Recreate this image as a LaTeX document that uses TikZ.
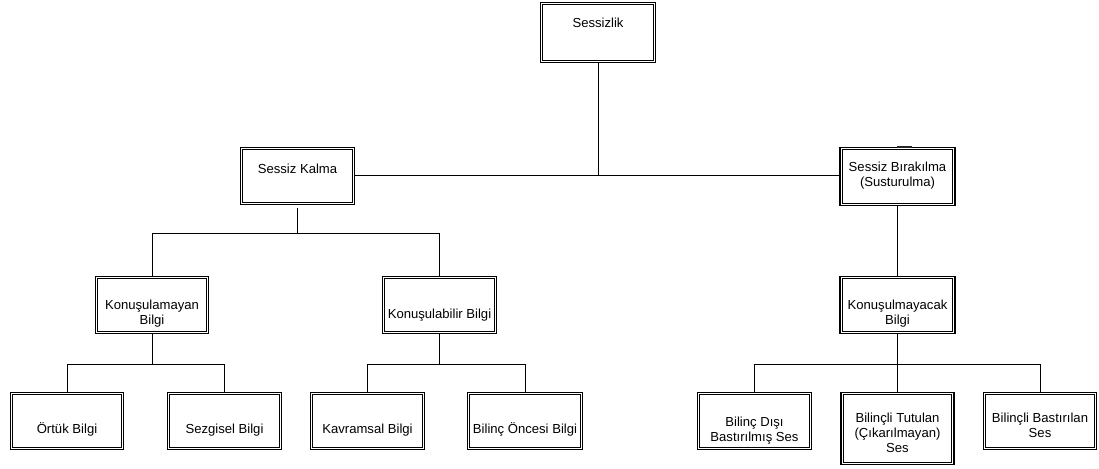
\documentclass[tikz,border=0pt]{standalone}
\usepackage{fontspec}
\setmainfont{Liberation Sans}
\begin{document}
\begin{tikzpicture}[x=1pt,y=-1pt,
  box/.style={draw=black, line width=1.2pt, inner sep=0pt, fill=white},
  innerbox/.style={draw=black, line width=0.7pt},
  lbl/.style={inner sep=0pt, align=center, font=\fontsize{13.1}{15}\selectfont},
  conn/.style={draw=black, line width=0.9pt}]
\useasboundingbox (0,0) rectangle (1099,468);
% boxes
\node[box, minimum width=115pt, minimum height=60pt] (root) at (598,32.5) {};
\node[box, minimum width=114pt, minimum height=57pt] (kalma) at (297.5,176) {};
\node[box, minimum width=115pt, minimum height=58pt] (birak) at (897.5,176.5) {};
\node[box, minimum width=113pt, minimum height=57pt] (kya) at (152,305) {};
\node[box, minimum width=114pt, minimum height=57pt] (kbi) at (439.5,305) {};
\node[box, minimum width=115pt, minimum height=57pt] (kmy) at (897.5,305) {};
\node[box, minimum width=113pt, minimum height=57pt] (ortuk) at (67,421) {};
\node[box, minimum width=114pt, minimum height=57pt] (sezgi) at (224.5,421) {};
\node[box, minimum width=114pt, minimum height=57pt] (kavram) at (367.5,421) {};
\node[box, minimum width=115pt, minimum height=57pt] (oncesi) at (525,421) {};
\node[box, minimum width=114pt, minimum height=57pt] (disi) at (754.5,421) {};
\node[box, minimum width=113pt, minimum height=72pt] (tutulan) at (897.5,428.5) {};
\node[box, minimum width=113pt, minimum height=57pt] (bastir) at (1040,421) {};
\foreach \n in {root,kalma,birak,kya,kbi,kmy,ortuk,sezgi,kavram,oncesi,disi,tutulan,bastir}
  \draw[innerbox] ([shift={(2.8pt,-2.8pt)}]\n.north west) rectangle ([shift={(-2.8pt,2.8pt)}]\n.south east);
% labels
\node[lbl, anchor=base] (troot) at (598,28) {Sessizlik};
\node[lbl, anchor=base] (tkalma) at (297.5,173) {Sessiz Kalma};
\node[lbl, anchor=north] (tbirak) at (897.5,162) {Sessiz Bırakılma\\(Susturulma)};
\node[lbl, anchor=north] (tkya) at (152,300) {Konuşulamayan\\Bilgi};
\node[lbl, anchor=base] (tkbi) at (439.5,318) {Konuşulabilir Bilgi};
\node[lbl, anchor=north] (tkmy) at (897.5,300) {Konuşulmayacak\\Bilgi};
\node[lbl, anchor=base] (tortuk) at (67,433) {Örtük Bilgi};
\node[lbl, anchor=base] (tsezgi) at (224.5,433) {Sezgisel Bilgi};
\node[lbl, anchor=base] (tkavram) at (367.5,433) {Kavramsal Bilgi};
\node[lbl, anchor=base] (toncesi) at (525,433) {Bilinç Öncesi Bilgi};
\node[lbl, anchor=north] (tdisi) at (754.5,417) {Bilinç Dışı\\Bastırılmış Ses};
\node[lbl, anchor=north] (ttutulan) at (897.5,413) {Bilinçli Tutulan\\(Çıkarılmayan)\\Ses};
\node[lbl, anchor=north] (tbastir) at (1040,413) {Bilinçli Bastırılan\\Ses};
% mark on top of birak
\draw[line width=1.8pt, black!85] ([xshift=-0.5pt]birak.north) -- ([xshift=14.5pt]birak.north);
% junctions
\coordinate (j0) at (598,175);
\coordinate (j1) at (297.5,233);
\coordinate (j2) at (152,364);
\coordinate (j3) at (439.5,364);
\coordinate (j4) at (897.5,364);
% connectors
\draw[conn] (root.south) -- (j0);
\draw[conn] (kalma.east |- j0) -- (birak.west |- j0);
\draw[conn] ([yshift=-3pt]kalma.south) -- (j1);
\draw[conn] (kya.north) -- (kya.north |- j1) -- (kbi.north |- j1) -- (kbi.north);
\draw[conn] (birak.south) -- (kmy.north);
\draw[conn] (kya.south) -- (j2);
\draw[conn] (ortuk.north) -- (ortuk.north |- j2) -- (sezgi.north |- j2) -- (sezgi.north);
\draw[conn] (kbi.south) -- (j3);
\draw[conn] (kavram.north) -- (kavram.north |- j3) -- (oncesi.north |- j3) -- (oncesi.north);
\draw[conn] (kmy.south) -- (tutulan.north);
\draw[conn] (disi.north) -- (disi.north |- j4) -- (bastir.north |- j4) -- (bastir.north);
\end{tikzpicture}
\end{document}
